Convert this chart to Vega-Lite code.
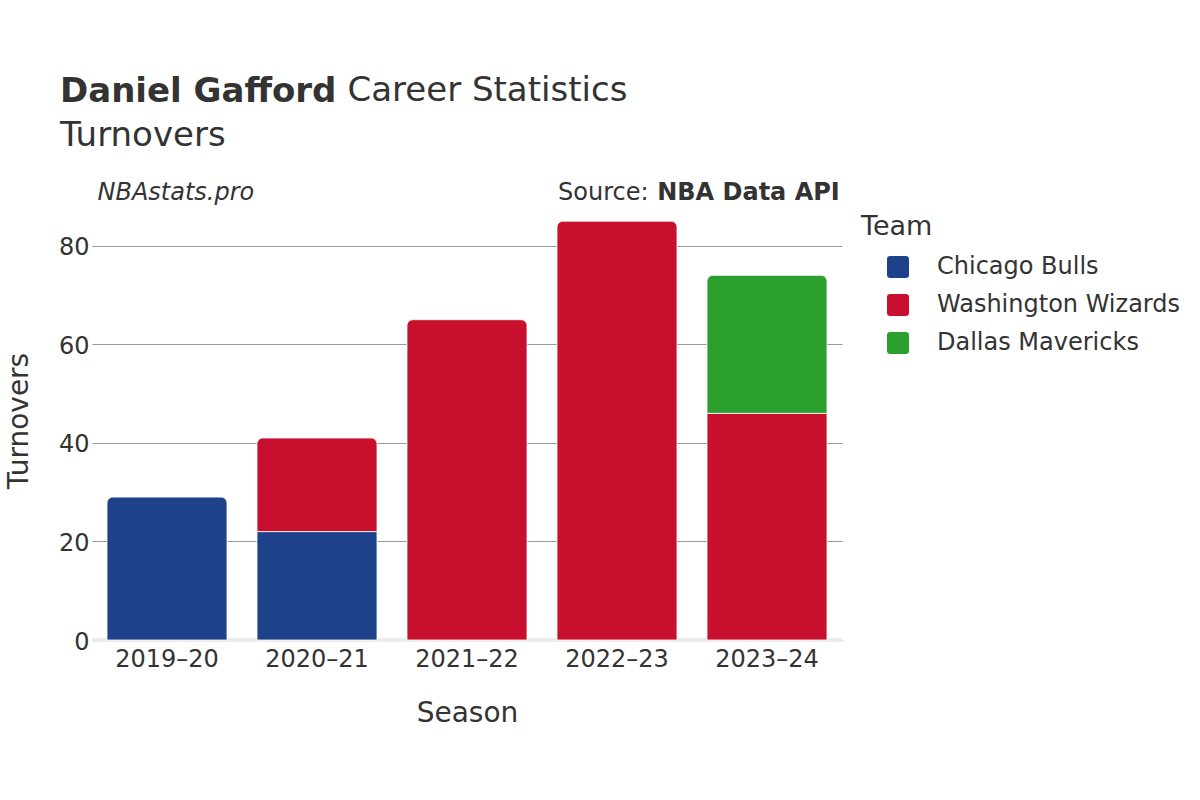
{
  "$schema": "https://vega.github.io/schema/vega-lite/v6.json",
  "width": 750,
  "height": 441,
  "autosize": {"type": "none"},
  "padding": {"left": 92, "top": 199, "right": 358, "bottom": 160},
  "background": "white",
  "title": {
    "text": "Daniel Gafford",
    "subtitle": "Turnovers",
    "anchor": "start",
    "frame": "group",
    "dx": -32,
    "offset": -80,
    "baseline": "top",
    "font": "DejaVu Sans",
    "subtitleFont": "DejaVu Sans",
    "fontSize": 34,
    "subtitleFontSize": 34,
    "fontWeight": "bold",
    "subtitleFontWeight": "normal",
    "subtitlePadding": 10,
    "color": "#333333",
    "subtitleColor": "#333333"
  },
  "config": {
    "font": "DejaVu Sans",
    "view": {"stroke": null},
    "axis": {"labelColor": "#333333", "titleColor": "#333333"}
  },
  "data": {
    "values": [
      {"season": "2019–20", "team": "Chicago Bulls", "turnovers": 29, "stint": 1},
      {"season": "2020–21", "team": "Chicago Bulls", "turnovers": 22, "stint": 1},
      {"season": "2020–21", "team": "Washington Wizards", "turnovers": 19, "stint": 2},
      {"season": "2021–22", "team": "Washington Wizards", "turnovers": 65, "stint": 1},
      {"season": "2022–23", "team": "Washington Wizards", "turnovers": 85, "stint": 1},
      {"season": "2023–24", "team": "Washington Wizards", "turnovers": 46, "stint": 1},
      {"season": "2023–24", "team": "Dallas Mavericks", "turnovers": 28, "stint": 2}
    ]
  },
  "transform": [
    {"stack": "turnovers", "groupby": ["season"], "sort": [{"field": "stint", "order": "ascending"}], "as": ["y0", "y1"]},
    {"joinaggregate": [{"op": "max", "field": "y1", "as": "top"}], "groupby": ["season"]}
  ],
  "layer": [
    {
      "mark": {"type": "rule", "color": "#ebebeb", "strokeWidth": 3},
      "encoding": {
        "x": {
          "datum": 0, "type": "quantitative",
          "scale": {"domain": [0, 1], "nice": false, "zero": false},
          "axis": {
            "orient": "top", "labels": false, "ticks": false, "domain": false, "grid": false,
            "title": "NBA Data API", "titleX": 564.7, "titleY": 0, "titleAlign": "left",
            "titleBaseline": "alphabetic", "titleAngle": 0, "titleFontSize": 24, "titleFontWeight": "bold"
          }
        },
        "x2": {"datum": 1},
        "y": {
          "datum": 0, "type": "quantitative",
          "scale": {"domain": [0, 89.5], "nice": false},
          "axis": {
            "orient": "left", "labels": false, "ticks": false, "domain": false, "grid": false,
            "title": "Career Statistics", "titleX": 255, "titleY": -99, "titleAlign": "left",
            "titleBaseline": "alphabetic", "titleAngle": 0, "titleFontSize": 34, "titleFontWeight": "normal"
          }
        }
      }
    },
    {
      "transform": [{"filter": "datum.y1 < datum.top"}],
      "mark": {"type": "bar", "stroke": "white", "strokeWidth": 1, "strokeOpacity": 0.8},
      "encoding": {
        "x": {
          "field": "season", "type": "nominal",
          "scale": {"domain": ["2019–20", "2020–21", "2021–22", "2022–23", "2023–24"], "paddingInner": 0.2, "paddingOuter": 0.1},
          "axis": {
            "orient": "bottom", "domain": false, "ticks": false, "grid": false,
            "labelAngle": 0, "labelFontSize": 24, "labelPadding": 7,
            "title": "Season", "titleX": 375, "titleY": 81, "titleAlign": "center",
            "titleBaseline": "alphabetic", "titleFontSize": 28, "titleFontWeight": "normal"
          }
        },
        "y": {
          "field": "y1", "type": "quantitative",
          "scale": {"domain": [0, 89.5], "nice": false},
          "axis": {
            "orient": "left", "values": [0, 20, 40, 60, 80], "domain": false, "ticks": false,
            "grid": true, "gridColor": "#999999", "gridWidth": 1,
            "labelFontSize": 24, "labelPadding": 3, "labelOffset": 2,
            "title": "Turnovers", "titleX": -65, "titleY": 221.5, "titleAngle": 270,
            "titleAlign": "center", "titleBaseline": "alphabetic", "titleFontSize": 28, "titleFontWeight": "normal"
          }
        },
        "y2": {"field": "y0"},
        "color": {
          "field": "team", "type": "nominal",
          "scale": {"domain": ["Chicago Bulls", "Washington Wizards", "Dallas Mavericks"], "range": ["#1d428a", "#c8102e", "#2ca02c"]},
          "legend": {
            "title": "Team", "orient": "none", "legendX": 769, "legendY": 15, "padding": 0,
            "titleFontSize": 27, "titleFontWeight": "normal", "titleColor": "#333333", "titlePadding": 14,
            "labelFontSize": 24, "labelColor": "#333333", "labelOffset": 27, "labelLimit": 400,
            "symbolType": "M-0.7,-1L0.7,-1Q1,-1,1,-0.7L1,0.7Q1,1,0.7,1L-0.7,1Q-1,1,-1,0.7L-1,-0.7Q-1,-1,-0.7,-1Z",
            "symbolSize": 484, "symbolOffset": 25, "symbolStrokeWidth": 0, "symbolOpacity": 1, "rowPadding": 14
          }
        }
      }
    },
    {
      "transform": [{"filter": "datum.y1 >= datum.top"}],
      "mark": {"type": "bar", "stroke": "white", "strokeWidth": 1, "strokeOpacity": 0.8, "cornerRadiusTopLeft": 6, "cornerRadiusTopRight": 6},
      "encoding": {
        "x": {
          "field": "season", "type": "nominal",
          "scale": {"domain": ["2019–20", "2020–21", "2021–22", "2022–23", "2023–24"], "paddingInner": 0.2, "paddingOuter": 0.1},
          "axis": {
            "orient": "top", "labels": false, "ticks": false, "domain": false, "grid": false,
            "title": "NBAstats.pro", "titleX": 5, "titleY": 0, "titleAlign": "left",
            "titleBaseline": "alphabetic", "titleFontSize": 24, "titleFontWeight": "normal", "titleFontStyle": "italic"
          }
        },
        "y": {
          "field": "y1", "type": "quantitative",
          "scale": {"domain": [0, 89.5], "nice": false},
          "axis": {
            "orient": "right", "labels": false, "ticks": false, "domain": false, "grid": false,
            "title": "Source:", "titleX": -284.5, "titleY": 0, "titleAngle": 0, "titleAlign": "left",
            "titleBaseline": "alphabetic", "titleFontSize": 24, "titleFontWeight": "normal"
          }
        },
        "y2": {"field": "y0"},
        "color": {
          "field": "team", "type": "nominal",
          "scale": {"domain": ["Chicago Bulls", "Washington Wizards", "Dallas Mavericks"], "range": ["#1d428a", "#c8102e", "#2ca02c"]},
          "legend": {
            "title": "Team", "orient": "none", "legendX": 769, "legendY": 15, "padding": 0,
            "titleFontSize": 27, "titleFontWeight": "normal", "titleColor": "#333333", "titlePadding": 14,
            "labelFontSize": 24, "labelColor": "#333333", "labelOffset": 27, "labelLimit": 400,
            "symbolType": "M-0.7,-1L0.7,-1Q1,-1,1,-0.7L1,0.7Q1,1,0.7,1L-0.7,1Q-1,1,-1,0.7L-1,-0.7Q-1,-1,-0.7,-1Z",
            "symbolSize": 484, "symbolOffset": 25, "symbolStrokeWidth": 0, "symbolOpacity": 1, "rowPadding": 14
          }
        }
      }
    }
  ],
  "resolve": {
    "scale": {"x": "independent"},
    "axis": {"x": "independent", "y": "independent"}
  }
}
